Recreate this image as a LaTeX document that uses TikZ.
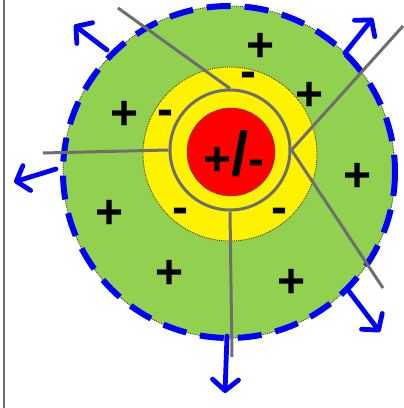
\documentclass[tikz,border=0pt]{standalone}
\usepackage{fontspec}
\setmainfont{Liberation Sans}
\usetikzlibrary{arrows.meta,positioning}
\definecolor{shellgreen}{HTML}{92D050}
\definecolor{wiregray}{HTML}{6E6E6E}

\begin{document}
\begin{tikzpicture}[
  x=1pt, y=-1pt,
  every node/.style={font=\fontsize{48}{48}\selectfont\bfseries},
  layer/.style={circle, inner sep=0pt, draw=black!75, densely dotted, line width=0.9pt},
  charge/.style={inner sep=0pt, text=black},
  wire/.style={draw=wiregray, line width=3pt},
  flow/.style={-{Straight Barb[length=11pt, width=26pt, round]}, draw=blue,
               line width=4.8pt, line cap=round},
  halo/.style={draw=blue, line width=6pt, dash pattern=on 24pt off 14pt}
]
\useasboundingbox (0,0) rectangle (404,408);
\draw[wiregray, line width=1.5pt] (4,0) -- (4,408);

%% Layers
\node[layer, fill=shellgreen, minimum size=332pt] (shell) at (229,172) {};
\draw[halo] (shell.center) circle[radius=166];
\node[layer, fill=yellow, minimum size=174pt]     (mid)   at (230,154) {};
\node[circle, wire, minimum size=120pt, inner sep=0pt] (ring) at (230,150) {};
\node[layer, fill=red, minimum size=88pt]         (core)  at (231,152) {};
\node[charge] (mix) at (234,154) {+{\fontsize{62}{62}\selectfont/}-};

%% Charges
\node[charge] (p1) at (261,47)  {+};
\node[charge] (p2) at (310,96)  {+};
\node[charge] (p3) at (125,115) {+};
\node[charge] (p4) at (358,177) {+};
\node[charge] (p5) at (110,214) {+};
\node[charge] (p6) at (170,274) {+};
\node[charge] (p7) at (292,283) {+};
\node[charge] (m1) at (248,80)  {-};
\node[charge] (m2) at (165,118) {-};
\node[charge] (m3) at (180,216) {-};
\node[charge] (m4) at (279,216) {-};

%% Wires
\coordinate (w1) at (118,8);
\coordinate (w2) at (403,26);
\coordinate (w3) at (383,288);
\coordinate (w4) at (43,153);
\coordinate (w5) at (232,357);
\draw[wire] (w1) -- (ring.north);
\draw[wire] (ring.east) -- (w2);
\draw[wire] (ring.east) -- (w3);
\draw[wire] (w4) -- (ring.west);
\draw[wire] (ring.south) -- (w5);

%% Outflow arrows
\coordinate (a1) at (107,50);  \coordinate (t1) at (74,25);
\coordinate (a2) at (345,53);  \coordinate (t2) at (373,18);
\coordinate (a3) at (56,169);  \coordinate (t3) at (14,182);
\coordinate (a4) at (227,336); \coordinate (t4) at (225,393);
\coordinate (a5) at (348,290); \coordinate (t5) at (380,332);
\foreach \i in {1,...,5}
  \draw[flow] (a\i) -- (t\i);
\end{tikzpicture}
\end{document}
